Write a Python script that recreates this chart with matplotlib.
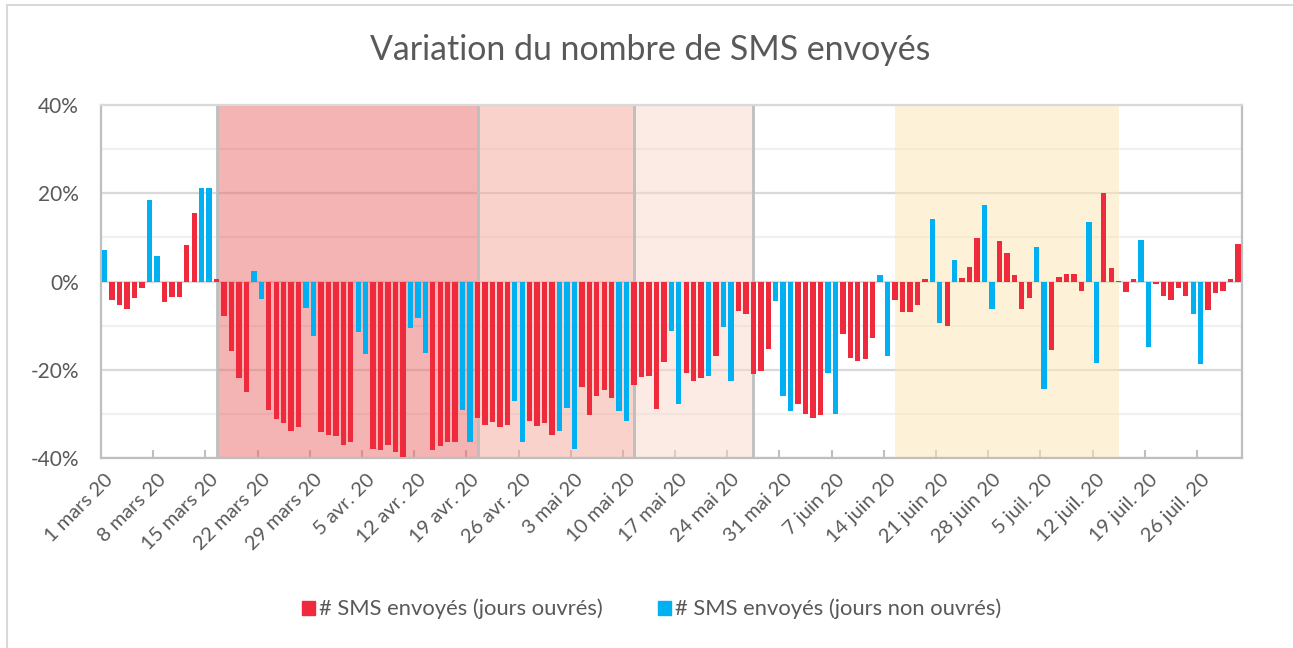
import numpy as np
import matplotlib
matplotlib.use("Agg")
import matplotlib.pyplot as plt
from matplotlib.patches import Patch, Rectangle

# Variation (%) du nombre de SMS, un point par jour du 1er mars au 31 juillet 2020
variation = [
    7.2, -4.2, -5.3, -6.2, -3.8, -1.5, 18.5, 5.7, -4.7, -3.5,
    -3.5, 8.3, 15.6, 21.1, 21.1, 0.5, -7.7, -15.8, -21.9, -25.1,
    2.5, -3.9, -29.1, -31.2, -32.1, -33.8, -33.0, -5.9, -12.2, -34.1,
    -34.7, -35.0, -37.1, -36.4, -11.5, -16.4, -37.9, -38.2, -37.1, -38.5,
    -39.6, -10.6, -8.2, -16.1, -38.2, -37.3, -36.2, -36.2, -29.1, -36.2,
    -30.9, -32.4, -31.8, -33.0, -32.4, -27.1, -36.4, -31.5, -32.7, -32.1,
    -34.7, -33.8, -28.6, -37.9, -23.9, -30.3, -26.0, -24.5, -26.3, -29.4,
    -31.5, -23.4, -21.7, -21.4, -28.9, -18.1, -11.1, -27.7, -20.6, -22.4,
    -21.9, -21.3, -16.9, -10.2, -22.4, -6.7, -7.3, -21.0, -20.2, -15.2,
    -4.4, -25.9, -29.4, -27.7, -30.0, -30.9, -30.3, -20.7, -30.0, -11.9,
    -17.2, -18.0, -17.5, -12.8, 1.4, -16.9, -4.2, -6.8, -6.8, -5.3,
    0.5, 14.1, -9.4, -10.0, 4.8, 0.8, 3.4, 9.8, 17.4, -6.2,
    9.2, 6.6, 1.4, -6.2, -3.8, 7.8, -24.2, -15.5, 1.0, 1.7,
    1.7, -2.1, 13.6, -18.5, 20.0, 3.1, 0.2, -2.4, 0.5, 9.5,
    -14.9, -0.6, -3.2, -4.2, -1.5, -3.2, -7.3, -18.6, -6.4, -2.6,
    -2.1, 0.5, 8.6,
]

# jours non ouvrés (index du jour depuis le 1er mars)
non_ouvres = [0, 6, 7, 13, 14, 20, 21, 27, 28, 34, 35, 41, 42, 43, 48, 49,
              55, 56, 61, 62, 63, 69, 70, 76, 77, 81, 83, 84, 90, 91, 92,
              97, 98, 104, 105, 111, 112, 114, 118, 119, 125, 126, 132, 133,
              139, 140, 146, 147]

tick_labels = ["1 mars 20", "8 mars 20", "15 mars 20", "22 mars 20", "29 mars 20",
               "5 avr. 20", "12 avr. 20", "19 avr. 20", "26 avr. 20", "3 mai 20",
               "10 mai 20", "17 mai 20", "24 mai 20", "31 mai 20", "7 juin 20",
               "14 juin 20", "21 juin 20", "28 juin 20", "5 juil. 20", "12 juil. 20",
               "19 juil. 20", "26 juil. 20"]

# périodes surlignées (jour de début, jour de fin)
periodes = [(15, 50), (50, 71), (71, 87)]
periode_ete = (106, 136)

RED = "#ee2a3c"
BLUE = "#00b0f0"
GREY_TXT = "#595959"

plt.rcParams['font.family'] = ['Lato', 'DejaVu Sans']

fig = plt.figure(figsize=(12.93, 6.48), dpi=100)
ax = fig.add_axes([101 / 1293, 1 - 458.3 / 648, (1241.7 - 101) / 1293, (458.3 - 105) / 648])

n = len(variation)
x = np.arange(n)
vals = np.array(variation)
is_off = np.isin(x, non_ouvres)
colors = np.where(is_off, BLUE, RED)

# fonds colorés
span_colors = ["#eb6a6a", "#f4a899", "#f8d8ca"]
for (a, b), c in zip(periodes, span_colors):
    ax.axvspan(a, b, color=c, alpha=0.5, lw=0, zorder=1)
    ax.axvline(a, color="#bfbfbf", lw=2, zorder=1.5)
    ax.axvline(b, color="#bfbfbf", lw=2, zorder=1.5)
ax.axvspan(periode_ete[0], periode_ete[1], color="#fde7b3", alpha=0.5, lw=0, zorder=1)

ax.bar(x, vals, width=0.72, color=colors, zorder=3)

ax.set_xlim(-0.5, n - 0.5)
ax.set_ylim(-40, 40)

# axe y
ax.set_yticks([-40, -20, 0, 20, 40])
ax.set_yticklabels(["-40%", "-20%", "0%", "20%", "40%"])
ax.set_yticks([-30, -10, 10, 30], minor=True)
ax.yaxis.grid(True, which="major", color="#d9d9d9", lw=1.6, zorder=0.5)
ax.yaxis.grid(True, which="minor", color="#f0f0f0", lw=1.6, zorder=0.5)
ax.tick_params(axis="y", which="both", length=0, pad=16, labelsize=15, labelcolor=GREY_TXT)

# axe x
ticks = list(range(0, n, 7))
ax.set_xticks(ticks)
ax.set_xticklabels(tick_labels, rotation=45, ha="right", rotation_mode="anchor")
ax.set_xticks([t - 0.5 for t in ticks[1:]], minor=True)
ax.tick_params(axis="x", which="major", length=0, pad=9, labelsize=14.5, labelcolor=GREY_TXT)
ax.tick_params(axis="x", which="minor", direction="in", length=6, width=1.5, color="#bfbfbf")
ax.set_axisbelow(True)

for s in ax.spines.values():
    s.set_color("#bfbfbf")
    s.set_linewidth(1.6)
ax.spines["top"].set_color("#d9d9d9")

fig.suptitle("Variation du nombre de SMS envoyés", x=0.503, y=1 - 50 / 648, va="center",
             fontsize=24.4, color=GREY_TXT)

handles = [Patch(color=RED, label="# SMS envoyés (jours ouvrés)"),
           Patch(color=BLUE, label="# SMS envoyés (jours non ouvrés)")]
fig.legend(handles=handles, loc="center", bbox_to_anchor=(0.504, 1 - 609 / 648),
           ncol=2, frameon=False, fontsize=15.8, labelcolor=GREY_TXT,
           handlelength=0.6, handleheight=0.6, handletextpad=0.2, columnspacing=2.5)

# cadre du graphique
fig.patches.append(Rectangle((7 / 1293, -0.01), 1.0, 1 - 5 / 648 + 0.01,
                             transform=fig.transFigure, fill=False,
                             edgecolor="#d9d9d9", lw=1.5))

fig.savefig("out.png", dpi=100)
